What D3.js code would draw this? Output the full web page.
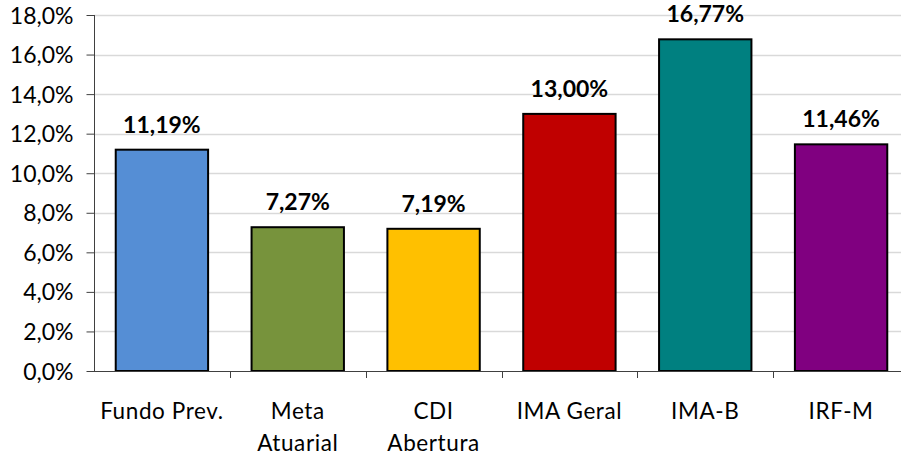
<!DOCTYPE html>
<html><head><meta charset="utf-8">
<script src="https://cdn.jsdelivr.net/npm/d3@7"></script>
<style>html,body{margin:0;padding:0;background:#fff;overflow:hidden}</style>
</head><body>
<svg id="c" width="901" height="457"></svg>
<script>
const categories = [["Fundo Prev."], ["Meta", "Atuarial"], ["CDI", "Abertura"], ["IMA Geral"], ["IMA-B"], ["IRF-M"]];
const values = [11.19, 7.27, 7.19, 13.00, 16.77, 11.46];
const colors = ["#558ED5", "#77933C", "#FFC000", "#C00000", "#008080", "#800080"];
const yTicks = [0, 2, 4, 6, 8, 10, 12, 14, 16, 18];

const font = "Lato, 'Open Sans', sans-serif";
const svg = d3.select("#c");
const pLeft = 94, pRight = 909, pTop = 15, pBottom = 371;
const keys = categories.map((c, i) => i);
const x = d3.scaleBand().domain(keys).range([pLeft, pRight]).paddingInner(0.32).paddingOuter(0.16);
const y = d3.scaleLinear().domain([0, 18]).range([pBottom, pTop]);
const fmt = v => v.toFixed(1).replace(".", ",") + "%";
const fmt2 = v => v.toFixed(2).replace(".", ",") + "%";

// gridlines
svg.append("g").selectAll("line").data(yTicks.filter(t => t > 0)).join("line")
  .attr("x1", pLeft).attr("x2", 901)
  .attr("y1", d => Math.round(y(d)) + 0.5).attr("y2", d => Math.round(y(d)) + 0.5)
  .attr("stroke", "#d9d9d9").attr("stroke-width", 1.5);

// bars
svg.append("g").selectAll("rect").data(values).join("rect")
  .attr("x", (d, i) => x(i)).attr("width", x.bandwidth())
  .attr("y", d => y(d)).attr("height", d => y(0) - y(d))
  .attr("fill", (d, i) => colors[i]).attr("stroke", "#000").attr("stroke-width", 2);

// y axis
const ya = svg.append("g").attr("transform", `translate(${pLeft + 0.5},0)`)
  .call(d3.axisLeft(y).tickValues(yTicks).tickFormat(fmt).tickSize(8).tickPadding(13));
ya.select(".domain").attr("stroke", "#404040").attr("d", `M0,${pTop}V${pBottom}`);
ya.selectAll(".tick line").attr("stroke", "#404040");
ya.selectAll(".tick text").attr("font-family", font).attr("font-size", 23).attr("fill", "#000").attr("dy", "0.35em");

// x axis
const xBounds = d3.range(categories.length + 1).map(i => pLeft + i * x.step());
const xa = svg.append("g");
xa.append("line").attr("x1", pLeft).attr("x2", 901).attr("y1", pBottom + 0.5).attr("y2", pBottom + 0.5).attr("stroke", "#404040");
xa.selectAll("line.t").data(xBounds.slice(1)).join("line").attr("class", "t")
  .attr("x1", d => Math.round(d) + 0.5).attr("x2", d => Math.round(d) + 0.5)
  .attr("y1", pBottom).attr("y2", pBottom + 7).attr("stroke", "#404040");
xa.selectAll("text").data(categories).join("text")
  .attr("x", (d, i) => x(i) + x.bandwidth() / 2).attr("y", 419)
  .attr("text-anchor", "middle").attr("font-family", font).attr("font-size", 22.5)
  .attr("letter-spacing", 0.6).attr("fill", "#000")
  .each(function(d) {
    d3.select(this).selectAll("tspan").data(d).join("tspan")
      .attr("x", d3.select(this).attr("x")).attr("dy", (t, j) => j === 0 ? 0 : 32).text(t => t);
  });

// value labels
svg.append("g").selectAll("text").data(values).join("text")
  .attr("x", (d, i) => x(i) + x.bandwidth() / 2).attr("y", d => y(d) - 17)
  .attr("text-anchor", "middle").attr("font-family", font).attr("font-weight", "bold")
  .attr("font-size", 23).attr("fill", "#000").text(fmt2);
</script>
</body></html>
